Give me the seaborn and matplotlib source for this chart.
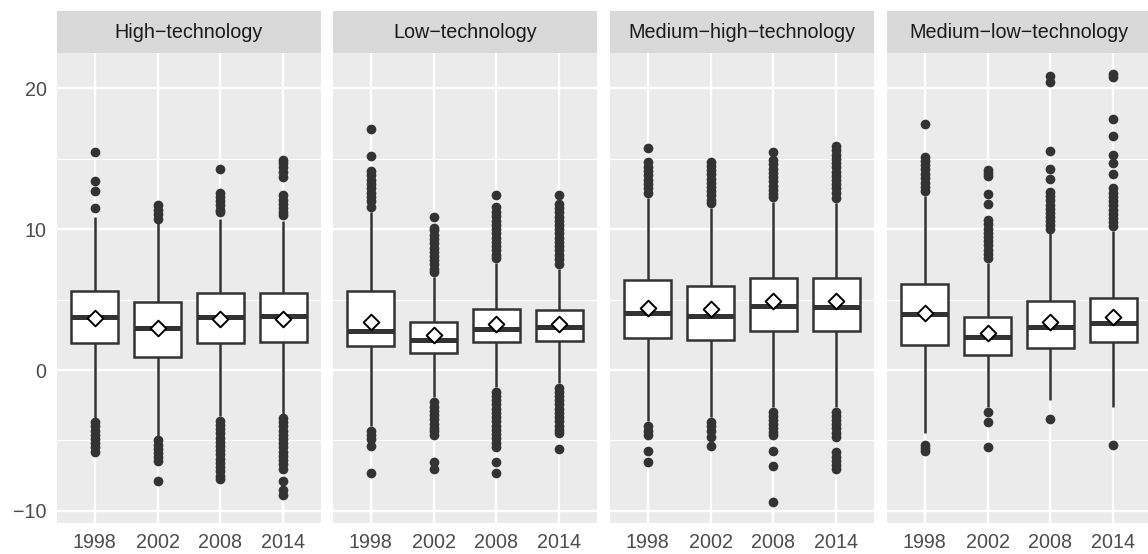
import numpy as np
import pandas as pd
import matplotlib
matplotlib.use("Agg")
import matplotlib.pyplot as plt
import seaborn as sns
from matplotlib.ticker import FixedLocator

sns.set_theme(style="white")
plt.rcParams["font.family"] = ["Liberation Sans", "DejaVu Sans"]

years = ["1998", "2002", "2008", "2014"]
sectors = ["High\u2212technology", "Low\u2212technology",
           "Medium\u2212high\u2212technology", "Medium\u2212low\u2212technology"]

# Box statistics: one row per sector, one value per year
whisker_low = [[-3.5, -4.7, -3.3, -3.1],
               [-4.0, -1.95, -1.2, -0.9],
               [-3.6, -3.35, -2.6, -2.6],
               [-4.45, -2.6, -2.1, -2.65]]
lower_q = [[1.9, 0.95, 1.95, 2.0],
           [1.68, 1.18, 1.98, 2.06],
           [2.24, 2.11, 2.74, 2.74],
           [1.76, 1.06, 1.56, 1.98]]
median = [[3.8, 3.0, 3.8, 3.85],
          [2.76, 2.14, 2.94, 3.07],
          [4.02, 3.82, 4.52, 4.5],
          [3.95, 2.31, 3.02, 3.32]]
upper_q = [[5.6, 4.8, 5.45, 5.5],
           [5.58, 3.44, 4.3, 4.25],
           [6.38, 6.0, 6.56, 6.5],
           [6.13, 3.77, 4.9, 5.13]]
whisker_high = [[10.9, 10.6, 10.7, 10.6],
                [11.2, 6.6, 7.6, 7.2],
                [12.25, 11.5, 11.9, 11.85],
                [12.35, 7.6, 9.95, 9.85]]
mean = [[3.7, 2.95, 3.65, 3.6],
        [3.44, 2.49, 3.24, 3.29],
        [4.37, 4.3, 4.9, 4.87],
        [4.02, 2.61, 3.44, 3.77]]

# Outlying observations per sector and year
outliers_high = [
    [15.5, 13.4, 12.7, 11.5, -3.7, -4.0, -4.3, -4.6, -4.9, -5.2, -5.5, -5.85],
    [11.75, 11.4, 11.1, 10.75, -4.95, -5.3, -5.6, -5.9, -6.2, -6.45, -7.85],
    [14.3, 12.6, 12.3, 12.0, 11.7, 11.4, 11.2, -3.6, -3.9, -4.2, -4.5, -4.8,
     -5.1, -5.4, -5.7, -6.0, -6.3, -6.6, -6.9, -7.2, -7.5, -7.75],
    [14.95, 14.7, 14.4, 14.1, 13.7, 12.45, 12.1, 11.8, 11.5, 11.2, 11.0,
     -3.4, -3.7, -4.0, -4.3, -4.6, -4.9, -5.2, -5.5, -5.8, -6.1, -6.4, -6.7,
     -7.05, -7.9, -8.5, -8.9],
]
outliers_low = [
    [17.1, 15.2, 14.15, 13.85, 13.5, 13.2, 12.9, 12.6, 12.3, 12.0, 11.6,
     -4.3, -4.6, -4.9, -5.4, -7.3],
    [10.85, 10.1, 9.95, 9.6, 9.3, 9.0, 8.7, 8.4, 8.1, 7.8, 7.5, 7.2, 6.95,
     -2.3, -2.6, -2.9, -3.2, -3.5, -3.8, -4.1, -4.35, -4.6, -6.5, -7.0],
    [12.4, 11.55, 11.25, 10.95, 10.6, 10.3, 10.0, 9.7, 9.4, 9.1, 8.8, 8.5, 8.2,
     7.95, -1.55, -1.85, -2.15, -2.45, -2.75, -3.05, -3.35, -3.65, -3.95,
     -4.25, -4.55, -4.85, -5.15, -5.5, -6.5, -7.35],
    [12.4, 11.8, 11.5, 11.2, 10.9, 10.6, 10.3, 10.0, 9.7, 9.4, 9.1, 8.8, 8.5,
     8.2, 7.9, 7.55, -1.25, -1.55, -1.85, -2.15, -2.45, -2.75, -3.05, -3.35,
     -3.65, -3.95, -4.25, -4.5, -5.6],
]
outliers_medium_high = [
    [15.75, 14.75, 14.45, 14.15, 13.85, 13.5, 13.2, 12.9, 12.6,
     -3.95, -4.3, -4.6, -5.75, -6.5],
    [14.8, 14.5, 14.2, 13.9, 13.6, 13.3, 13.0, 12.7, 12.4, 12.1, 11.85,
     -3.7, -4.0, -4.35, -4.75, -5.4],
    [15.5, 14.9, 14.6, 14.3, 14.0, 13.7, 13.4, 13.1, 12.8, 12.5, 12.3,
     -2.95, -3.25, -3.55, -3.85, -4.15, -4.4, -4.65, -5.75, -6.85, -9.35],
    [15.9, 15.6, 15.3, 15.0, 14.7, 14.4, 14.1, 13.8, 13.5, 13.2, 12.9, 12.55,
     12.2, -2.95, -3.25, -3.55, -3.85, -4.15, -4.45, -4.75, -5.85, -6.15,
     -6.45, -6.75, -7.0],
]
outliers_medium_low = [
    [17.45, 15.15, 14.85, 14.55, 14.25, 13.95, 13.65, 13.3, 13.0, 12.7,
     -5.3, -5.55, -5.75],
    [14.2, 14.0, 13.75, 12.5, 11.8, 10.65, 10.35, 10.05, 9.75, 9.45, 9.15,
     8.85, 8.55, 8.25, 7.95, -2.95, -3.7, -5.5],
    [20.9, 20.45, 15.55, 14.25, 13.6, 12.65, 12.35, 12.05, 11.75, 11.45,
     11.15, 10.85, 10.55, 10.3, 10.05, -3.45],
    [21.0, 20.8, 17.8, 16.6, 15.25, 14.7, 13.95, 12.9, 12.6, 12.3, 12.0,
     11.7, 11.4, 11.1, 10.8, 10.5, 10.2, -5.3],
]
outliers = [outliers_high, outliers_low, outliers_medium_high, outliers_medium_low]

# Shared y scale with 5% padding, as in ggplot's continuous scale
all_vals = [v for s in outliers for yr in s for v in yr]
all_vals += [v for row in whisker_low + whisker_high for v in row]
lo, hi = min(all_vals), max(all_vals)
pad = 0.05 * (hi - lo)

W, H = 1148, 554
fig = plt.figure(figsize=(W / 100, H / 100), dpi=100)
fig.patch.set_facecolor("white")

panel_left = [57, 333, 610, 887]
panel_w = 264
plot_top, plot_bottom = 53, 523
strip_top = 11

for i, sector in enumerate(sectors):
    x0 = panel_left[i]
    ax = fig.add_axes([x0 / W, 1 - plot_bottom / H, panel_w / W,
                       (plot_bottom - plot_top) / H])
    strip = fig.add_axes([x0 / W, 1 - plot_top / H, panel_w / W,
                          (plot_top - strip_top) / H])

    box_df = pd.DataFrame({
        "year": np.repeat(years, 5),
        "value": np.ravel([[whisker_low[i][j], lower_q[i][j], median[i][j],
                            upper_q[i][j], whisker_high[i][j]]
                           for j in range(len(years))]),
    })
    out_df = pd.DataFrame({
        "year": [y for j, y in enumerate(years) for _ in outliers[i][j]],
        "value": [v for j in range(len(years)) for v in outliers[i][j]],
    })
    mean_df = pd.DataFrame({"year": years, "value": mean[i]})

    ax.set_facecolor("#EBEBEB")
    ax.set_axisbelow(True)

    sns.boxplot(data=box_df, x="year", y="value", order=years, ax=ax,
                whis=(0, 100), width=0.75, color="white", saturation=1,
                linecolor="#333333", linewidth=1.8, fliersize=0,
                showcaps=False, medianprops=dict(linewidth=3.6),
                zorder=2)
    sns.stripplot(data=out_df, x="year", y="value", order=years, ax=ax,
                  jitter=False, color="#333333", size=7.0, linewidth=0,
                  zorder=3)
    sns.stripplot(data=mean_df, x="year", y="value", order=years, ax=ax,
                  jitter=False, marker="D", color="white", size=8.0,
                  edgecolor="black", linewidth=1.4, zorder=4)

    ax.set_xlim(-0.6, len(years) - 0.4)
    ax.set_ylim(lo - pad, hi + pad)
    ax.yaxis.set_major_locator(FixedLocator([-10, 0, 10, 20]))
    ax.yaxis.set_minor_locator(FixedLocator([-5, 5, 15]))
    ax.grid(which="major", color="white", linewidth=1.7)
    ax.grid(which="minor", axis="y", color="white", linewidth=0.85)
    ax.set_xlabel("")
    ax.set_ylabel("")
    for sp in ax.spines.values():
        sp.set_visible(False)
    ax.tick_params(axis="x", which="major", length=4.3, width=1.5,
                   color="#333333", labelcolor="#4D4D4D", labelsize=14.2,
                   pad=3.2)
    ax.tick_params(axis="y", which="minor", length=0)
    if i == 0:
        ax.yaxis.set_major_formatter(
            plt.FuncFormatter(lambda v, _: f"{v:g}".replace("-", "\u2212")))
        ax.tick_params(axis="y", which="major", length=4.3, width=1.5,
                       color="#333333", labelcolor="#4D4D4D",
                       labelsize=14.2, pad=3.2)
    else:
        ax.tick_params(axis="y", which="major", length=0, labelleft=False)

    strip.set_facecolor("#D9D9D9")
    strip.set_xticks([])
    strip.set_yticks([])
    for sp in strip.spines.values():
        sp.set_visible(False)
    strip.text(0.5, 0.5, sector, ha="center", va="center",
               color="#1A1A1A", fontsize=14.2, transform=strip.transAxes)

fig.savefig("out.png", dpi=100, facecolor="white")
